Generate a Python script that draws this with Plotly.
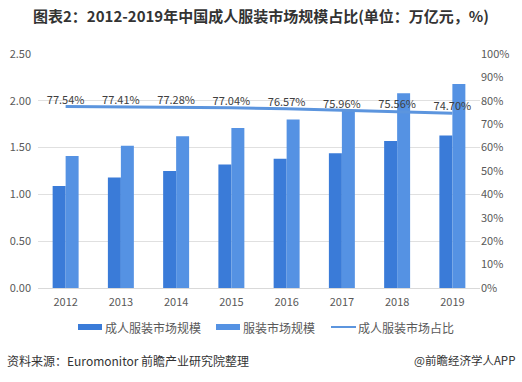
import plotly.graph_objects as go

years = ["2012", "2013", "2014", "2015", "2016", "2017", "2018", "2019"]
adult = [1.09, 1.18, 1.25, 1.32, 1.38, 1.44, 1.57, 1.63]
total = [1.41, 1.52, 1.62, 1.71, 1.80, 1.90, 2.08, 2.18]
share = [77.54, 77.41, 77.28, 77.04, 76.57, 75.96, 75.56, 74.70]
share_labels = [f"{v:.2f}%" for v in share]
series_names = ["成人服装市场规模", "服装市场规模", "成人服装市场占比"]

font_cjk = "Noto Sans CJK SC, Microsoft YaHei, sans-serif"
c_adult = "#3a7bd8"
c_total = "#5592e3"
c_line = "#5c95de"

W, H = 522, 382
ML, MR, MT, MB = 38, 42, 54, 94
PW, PH = W - ML - MR, H - MT - MB


def px(x):
    return (x - ML) / PW


def py(y):
    return (H - MB - y) / PH


fig = go.Figure()
fig.add_trace(go.Bar(x=years, y=adult, name=series_names[0], marker_color=c_adult,
                     marker_line_width=0, showlegend=False))
fig.add_trace(go.Bar(x=years, y=total, name=series_names[1], marker_color=c_total,
                     marker_line_width=0, showlegend=False))
fig.add_trace(go.Scatter(x=years, y=share, name=series_names[2], yaxis="y2",
                         mode="lines+text", line=dict(color=c_line, width=3),
                         text=share_labels, textposition="top center",
                         textfont=dict(size=11, color="#404040", family=font_cjk),
                         showlegend=False))

fig.update_layout(
    width=W, height=H,
    margin=dict(l=ML, r=MR, t=MT, b=MB, autoexpand=False),
    paper_bgcolor="white", plot_bgcolor="white",
    font=dict(family=font_cjk, size=11, color="#595959"),
    title=dict(text="<b>图表2：2012-2019年中国成人服装市场规模占比(单位：万亿元，%)</b>",
               x=0.5, xanchor="center", y=1 - 17 / H, yanchor="middle",
               font=dict(size=15, color="#333333", family=font_cjk)),
    barmode="group", bargap=0.53, bargroupgap=0,
    xaxis=dict(showgrid=False, showline=True, linecolor="#d9d9d9", ticks="",
               ticklabelstandoff=4, tickfont=dict(size=11, color="#595959")),
    yaxis=dict(range=[0, 2.5], dtick=0.5, tickformat=".2f", showgrid=True,
               gridcolor="#e0e0e0", zeroline=False, ticks="", ticklabelstandoff=6,
               tickfont=dict(size=11, color="#595959")),
    yaxis2=dict(range=[0, 100], dtick=10, ticksuffix="%", overlaying="y", side="right",
                showgrid=False, zeroline=False, ticks="",
                tickfont=dict(size=11, color="#595959")),
    showlegend=False,
)

# manual legend (matches reference symbol shapes)
leg_y = 327
legend_items = [
    (78, c_adult, "rect"),
    (216, c_total, "rect"),
    (331, c_line, "line"),
]
for (x0, col, kind), name in zip(legend_items, series_names):
    if kind == "rect":
        fig.add_shape(type="rect", xref="paper", yref="paper",
                      x0=px(x0), x1=px(x0 + 24), y0=py(leg_y + 3), y1=py(leg_y - 3),
                      fillcolor=col, line=dict(width=0))
    else:
        fig.add_shape(type="line", xref="paper", yref="paper",
                      x0=px(x0), x1=px(x0 + 25), y0=py(leg_y), y1=py(leg_y),
                      line=dict(color=col, width=2))
    fig.add_annotation(text=name, xref="paper", yref="paper",
                       x=px(x0 + 25), y=py(leg_y), xanchor="left", yanchor="middle",
                       showarrow=False,
                       font=dict(size=12, color="#595959", family=font_cjk))

fig.add_annotation(text="资料来源：Euromonitor 前瞻产业研究院整理", xref="paper", yref="paper",
                   x=px(5), y=py(360), xanchor="left", yanchor="middle", showarrow=False,
                   font=dict(size=12, color="#333333", family=font_cjk))
fig.add_annotation(text="@前瞻经济学人APP", xref="paper", yref="paper",
                   x=px(517), y=py(360), xanchor="right", yanchor="middle", showarrow=False,
                   font=dict(size=11.5, color="#333333", family=font_cjk))

fig.write_html("out.html", config={"displayModeBar": False},
               post_script="document.body.style.margin='0';")
